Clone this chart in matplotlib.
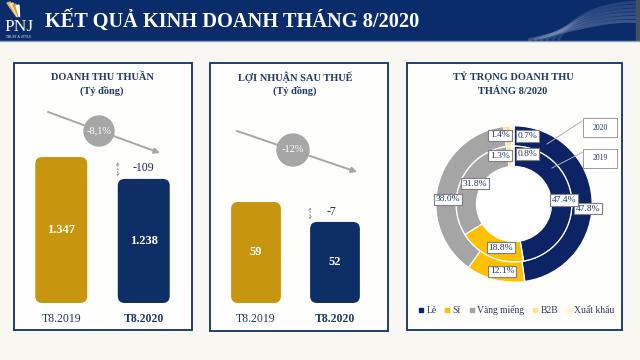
import matplotlib.pyplot as plt
from matplotlib.patches import FancyBboxPatch, Rectangle, Circle, Polygon, PathPatch
from matplotlib.path import Path
from matplotlib.lines import Line2D

plt.rcParams['font.family'] = ['Liberation Serif', 'DejaVu Serif']

# data
periods = ['T8.2019', 'T8.2020']
revenue = [1347, 1238]
profit = [59, 52]
revenue_change = '-8,1%'
profit_change = '-12%'

share_labels = ['Lẻ', 'Sỉ', 'Vàng miếng', 'B2B', 'Xuất khẩu']
share_2020 = [47.8, 12.1, 38.0, 1.4, 0.7]
share_2019 = [47.4, 18.8, 31.8, 1.3, 0.8]

# colours
HEADER = '#0B2C6A'
NAVY = '#0E2F66'
GOLD = '#C8950F'
TXT = '#1F3864'
GREY = '#A6A6A6'
BG = '#F9F7F2'
share_colors = ['#0C2366', '#FFC000', '#A5A5A5', '#FFE38F', '#FFF2CC']

W, H = 640, 360
fig = plt.figure(figsize=(6.4, 3.6), dpi=100, facecolor=BG)


def px_axes(x0, y0, x1, y1, z=1):
    ax = fig.add_axes([x0 / W, 1 - y1 / H, (x1 - x0) / W, (y1 - y0) / H], zorder=z)
    ax.patch.set_alpha(0)
    return ax


def overlay(z):
    ax = px_axes(0, 0, W, H, z)
    ax.set_xlim(0, W)
    ax.set_ylim(H, 0)
    ax.axis('off')
    return ax


bg = overlay(0)
fg = overlay(5)

# header band
bg.add_patch(Rectangle((0, 0), W, 40, color=HEADER))
bg.plot([0, W], [40.5, 40.5], color='#8FA0C0', lw=1)
for k in range(6):
    verts = [(528 + k * 6, 40), (575, 30 - k * 4), (610, 18 - k * 3), (640, 22 - k * 4)]
    p = Path(verts, [Path.MOVETO, Path.CURVE4, Path.CURVE4, Path.CURVE4])
    bg.add_patch(PathPatch(p, fc='none', ec='#8FA3C8', lw=2.2, alpha=0.35 - k * 0.03))
bg.add_patch(Rectangle((636, 0), 4, 40, color='#4A4F5E'))
fg.text(45, 21, 'KẾT QUẢ KINH DOANH THÁNG 8/2020', color='white', fontsize=14.7,
        fontweight='bold', va='center', ha='left')

# logo
for i, (c, dx) in enumerate([('#D9B35A', -4), ('#F2E2B5', -1), ('#C9A041', 2), ('#FFFFFF', 5)]):
    bg.add_patch(Polygon([(18 + dx * 0.3, 17), (11 + dx, 3 + i), (14 + dx, 2 + i)], closed=True, color=c))
fg.text(19, 27, 'PNJ', color='white', fontsize=12.5, ha='center', va='center')
fg.text(19, 37.5, 'TRUST & STYLE', color='white', fontsize=2.4, ha='center', va='center')

# panels
for x, y, w, h in [(14, 63, 178, 267), (210, 63, 178, 268), (407, 63, 215, 267)]:
    bg.add_patch(Rectangle((x, y), w, h, fc='#FEFEFC', ec=NAVY, lw=1.3))


def bar_panel(box, vals, base, ymax, title, change, change_xy, circle_r, arrow, diff_x):
    ax = px_axes(*box, z=2)
    ax.axis('off')
    ax.set_xlim(-0.5, 1.5)
    ax.set_ylim(base, ymax)
    sx = (box[2] - box[0]) / 2.0
    sy = (box[3] - box[1]) / (ymax - base)
    bars = ax.bar(range(len(vals)), [v - base for v in vals], bottom=base, width=0.63)
    for b, c in zip(bars, [GOLD, NAVY]):
        x, y = b.get_xy()
        w, h = b.get_width(), b.get_height()
        b.remove()
        ax.add_patch(FancyBboxPatch((x, y), w, h, boxstyle=f'round,pad=0,rounding_size={7 / sx}',
                                    mutation_aspect=sx / sy, fc=c, ec='none'))
    for i, v in enumerate(vals):
        ax.text(i, (base + v) / 2, f'{v:,}'.replace(',', '.'), color='white', fontsize=9,
                fontweight='bold', ha='center', va='center')
        ax.text(i, -16 / (box[3] - box[1]), periods[i], color=TXT, fontsize=8.5,
                fontweight='bold' if i == 1 else 'normal', ha='center', va='center',
                transform=ax.get_xaxis_transform())
    # difference marker
    xe = 1 - 0.315
    ax.annotate('', xy=(xe, vals[0]), xytext=(xe, vals[1]),
                arrowprops=dict(arrowstyle='<->', color='#9A9A9A', lw=0.8, linestyle=':',
                                shrinkA=1.5, shrinkB=3.5, mutation_scale=4))
    ax.text(diff_x, (vals[0] + vals[1]) / 2, f'{vals[1] - vals[0]}', color='#1F2A44', fontsize=8.5,
            ha='center', va='center')
    # title
    cx = title[0]
    fg.text(cx, 77, title[1], color=TXT, fontsize=7.5, fontweight='bold', ha='center', va='center')
    fg.text(cx, 91, '(Tỷ đồng)', color=TXT, fontsize=7.5, fontweight='bold', ha='center', va='center')
    # trend arrow
    fg.annotate('', xy=arrow[1], xytext=arrow[0],
                arrowprops=dict(arrowstyle='-|>', color=GREY, lw=1.4, mutation_scale=8, shrinkA=0, shrinkB=0))
    fg.add_patch(Circle(change_xy, circle_r, color=GREY, zorder=3))
    fg.text(change_xy[0], change_xy[1], change, color='white', fontsize=7.5, ha='center', va='center', zorder=4)


bar_panel((20, 100, 185, 303), revenue, 620, 1631, (102, 'DOANH THU THUẦN'), revenue_change,
          (99, 131), 15, ((48, 112), (160, 153)), 1.0)
bar_panel((216.5, 100, 374.5, 303), profit, 23.5, 94.85, (295, 'LỢI NHUẬN SAU THUẾ'), profit_change,
          (293, 150), 16, ((237, 131), (357, 172)), 0.95)

# donut
cx, cy = 514, 204
dax = px_axes(cx - 86, cy - 86, cx + 86, cy + 86, z=2)
wp = dict(width=0.26, edgecolor='white', linewidth=0.9)
dax.pie(share_2020, radius=1.0, colors=share_colors, startangle=90, counterclock=False, wedgeprops=wp)
dax.pie(share_2019, radius=0.74, colors=share_colors, startangle=90, counterclock=False, wedgeprops=wp)
dax.add_patch(Circle((0, 0), 0.47, fc='white', ec='none'))
dax.set_xlim(-1.1, 1.1)
dax.set_ylim(-1.1, 1.1)
dax.axis('off')

pos_2020 = [(0.95, -0.06), (-0.15, -0.86), (-0.85, 0.06), (-0.18, 0.88), (0.17, 0.87)]
pos_2019 = [(0.64, 0.05), (-0.17, -0.56), (-0.50, 0.26), (-0.18, 0.62), (0.17, 0.64)]
box = dict(boxstyle='square,pad=0.18', fc='white', ec='#7F7F7F', lw=0.8)
for vals, pos in [(share_2020, pos_2020), (share_2019, pos_2019)]:
    for v, (x, y) in zip(vals, pos):
        dax.text(x, y, f'{v:.1f}%', color=TXT, fontsize=6.8, ha='center', va='center', bbox=box, zorder=5)

# year callouts
for (bx, by, lab), (x0, y0, x1, y1) in [((583, 118, '2020'), (582, 121, 547, 144)),
                                        ((583, 149, '2019'), (583, 152, 552, 168))]:
    fg.add_patch(Rectangle((bx, by), 34, 19, fc='white', ec='#9A9A9A', lw=0.7))
    fg.plot([x0, x1], [y0, y1], color='#B0B0B0', lw=0.7)
    fg.text(bx + 17, by + 9.5, lab, color=TXT, fontsize=5.5, ha='center', va='center')

fg.text(513, 77, 'TỶ TRỌNG DOANH THU', color=TXT, fontsize=7.5, fontweight='bold', ha='center', va='center')
fg.text(513, 92, 'THÁNG 8/2020', color=TXT, fontsize=7.5, fontweight='bold', ha='center', va='center')

handles = [Line2D([], [], marker='s', ls='', color=c, markersize=3.3) for c in share_colors]
fig.legend(handles, share_labels, loc='center', bbox_to_anchor=(516 / W, 1 - 310 / H), ncol=5,
           frameon=False, fontsize=6.9, handletextpad=0.15, columnspacing=0.75, handlelength=0.8,
           labelcolor='#2F3650')

fig.savefig('out.png', dpi=100, facecolor=BG)
